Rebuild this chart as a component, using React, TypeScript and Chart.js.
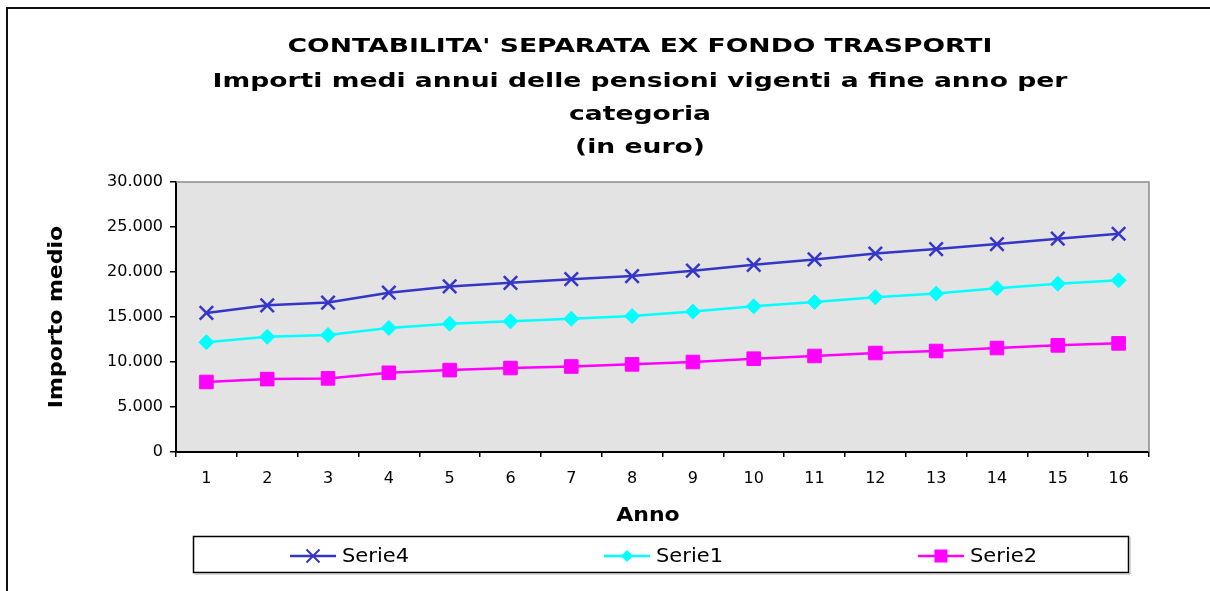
import React, { useEffect, useRef } from "react";
import { Chart, registerables } from "chart.js";

Chart.register(...registerables);

const categories = ["1", "2", "3", "4", "5", "6", "7", "8", "9", "10", "11", "12", "13", "14", "15", "16"];
const serie4 = [15450, 16300, 16600, 17700, 18400, 18800, 19200, 19550, 20150, 20800, 21400, 22050, 22550, 23100, 23700, 24250];
const serie1 = [12200, 12800, 13000, 13780, 14260, 14520, 14810, 15100, 15600, 16190, 16670, 17200, 17600, 18200, 18700, 19070];
const serie2 = [7780, 8100, 8180, 8800, 9100, 9330, 9500, 9740, 10000, 10370, 10670, 11000, 11220, 11550, 11850, 12070];
const titleLines = [
  "CONTABILITA' SEPARATA EX FONDO TRASPORTI",
  "Importi medi annui delle pensioni vigenti a fine anno per",
  "categoria",
  "(in euro)",
];
const yTitle = "Importo medio";
const xTitle = "Anno";

const fmt = (v: number) => String(Math.round(v)).replace(/\B(?=(\d{3})+(?!\d))/g, ".");

function drawMarker(ctx: CanvasRenderingContext2D, style: string, x: number, y: number, color: string) {
  ctx.save();
  ctx.fillStyle = color;
  ctx.strokeStyle = color;
  if (style === "crossRot") {
    ctx.lineWidth = 2;
    ctx.beginPath();
    ctx.moveTo(x - 6.5, y - 6.5);
    ctx.lineTo(x + 6.5, y + 6.5);
    ctx.moveTo(x - 6.5, y + 6.5);
    ctx.lineTo(x + 6.5, y - 6.5);
    ctx.stroke();
  } else if (style === "rectRot") {
    ctx.beginPath();
    ctx.moveTo(x - 6, y);
    ctx.lineTo(x, y - 6);
    ctx.lineTo(x + 6, y);
    ctx.lineTo(x, y + 6);
    ctx.closePath();
    ctx.fill();
  } else {
    ctx.fillRect(x - 6.5, y - 6.5, 13, 13);
  }
  ctx.restore();
}

function wideText(ctx: CanvasRenderingContext2D, text: string, x: number, y: number, sx: number) {
  ctx.save();
  ctx.translate(x, y);
  ctx.scale(sx, 1);
  ctx.fillText(text, 0, 0);
  ctx.restore();
}

const decorPlugin = {
  id: "decor",
  beforeDraw(chart: any) {
    const { ctx, chartArea } = chart;
    ctx.save();
    ctx.fillStyle = "#e3e3e3";
    ctx.fillRect(chartArea.left, chartArea.top, chartArea.right - chartArea.left, chartArea.bottom - chartArea.top);
    ctx.restore();
  },
  afterDraw(chart: any) {
    const { ctx, chartArea } = chart;
    ctx.save();
    ctx.strokeStyle = "#8c8c8c";
    ctx.lineWidth = 1.5;
    ctx.beginPath();
    ctx.moveTo(chartArea.left, chartArea.top);
    ctx.lineTo(chartArea.right, chartArea.top);
    ctx.lineTo(chartArea.right, chartArea.bottom);
    ctx.stroke();

    ctx.fillStyle = "#000";
    ctx.textAlign = "center";
    ctx.textBaseline = "alphabetic";
    ctx.font = "bold 20px 'DejaVu Sans'";
    const baselines = [52, 86.5, 119.5, 153];
    titleLines.forEach((t, i) => wideText(ctx, t, 640, baselines[i], 1.33));

    wideText(ctx, xTitle, 648, 521, 1.1);

    ctx.save();
    ctx.translate(62, 317);
    ctx.rotate(-Math.PI / 2);
    wideText(ctx, yTitle, 0, 0, 1.1);
    ctx.restore();

    ctx.strokeStyle = "#000";
    ctx.lineWidth = 1.5;
    ctx.strokeRect(193.5, 536.5, 935, 36);
    ctx.fillStyle = "#b0b0b0";
    ctx.fillRect(194, 573.5, 936, 1);
    ctx.fillRect(1129.5, 537, 1, 37);

    const ds = chart.data.datasets;
    const starts = [290, 604, 918];
    ds.forEach((d: any, i: number) => {
      const x0 = starts[i];
      const y = 556;
      ctx.strokeStyle = d.borderColor;
      ctx.lineWidth = 2.5;
      ctx.beginPath();
      ctx.moveTo(x0, y);
      ctx.lineTo(x0 + 46, y);
      ctx.stroke();
      drawMarker(ctx, d.pointStyle, x0 + 23, y, d.borderColor);
      ctx.fillStyle = "#000";
      ctx.textAlign = "left";
      ctx.textBaseline = "middle";
      ctx.font = "20px 'DejaVu Sans'";
      wideText(ctx, d.label, x0 + 52, y + 1, 1.05);
    });
    ctx.restore();
  },
};

export default function App() {
  const ref = useRef<HTMLCanvasElement | null>(null);
  useEffect(() => {
    if (!ref.current) return;
    const chart = new Chart(ref.current, {
      type: "line",
      data: {
        labels: categories,
        datasets: [
          {
            label: "Serie4",
            data: serie4,
            borderColor: "#3535c8",
            backgroundColor: "#3535c8",
            borderWidth: 2.5,
            pointStyle: "crossRot",
            pointRadius: 9.5,
            pointBorderWidth: 2.5,
            tension: 0,
          },
          {
            label: "Serie1",
            data: serie1,
            borderColor: "#00ffff",
            backgroundColor: "#00ffff",
            borderWidth: 2.5,
            pointStyle: "rectRot",
            pointRadius: 7.5,
            pointBorderWidth: 1,
            tension: 0,
          },
          {
            label: "Serie2",
            data: serie2,
            borderColor: "#ff00ff",
            backgroundColor: "#ff00ff",
            borderWidth: 2.5,
            pointStyle: "rect",
            pointRadius: 9.6,
            pointBorderWidth: 1,
            tension: 0,
          },
        ],
      },
      options: {
        responsive: false,
        animation: false,
        devicePixelRatio: 1,
        layout: { padding: { top: 182, right: 61, bottom: 59, left: 0 } },
        plugins: { legend: { display: false }, title: { display: false }, tooltip: { enabled: false } },
        scales: {
          x: {
            offset: true,
            grid: { offset: true, drawOnChartArea: false, drawTicks: true, tickLength: 5, color: "#000", lineWidth: 1.5 },
            border: { display: true, color: "#000", width: 2 },
            ticks: { color: "#000", font: { family: "'DejaVu Sans'", size: 16 }, padding: 12, maxRotation: 0, autoSkip: false },
            afterFit: (s: any) => { s.height = 80; },
          },
          y: {
            min: 0,
            max: 30000,
            grid: { drawOnChartArea: false, drawTicks: true, tickLength: 6, color: "#000", lineWidth: 1.5 },
            border: { display: true, color: "#000", width: 2 },
            ticks: { stepSize: 5000, color: "#000", font: { family: "'DejaVu Sans'", size: 16 }, padding: 7, callback: (v: any) => fmt(Number(v)) },
            afterFit: (s: any) => { s.width = 176; },
          },
        },
      },
      plugins: [decorPlugin],
    });
    return () => chart.destroy();
  }, []);
  return (
    <div style={{ position: "fixed", left: 0, top: 0, width: 1210, height: 591, overflow: "hidden", background: "#fff" }}>
      <div style={{ position: "absolute", left: 6, top: 7, width: 1300, height: 700, borderLeft: "2px solid #111", borderTop: "2px solid #111" }} />
      <canvas ref={ref} width={1210} height={591} style={{ position: "absolute", left: 0, top: 0 }} />
    </div>
  );
}
